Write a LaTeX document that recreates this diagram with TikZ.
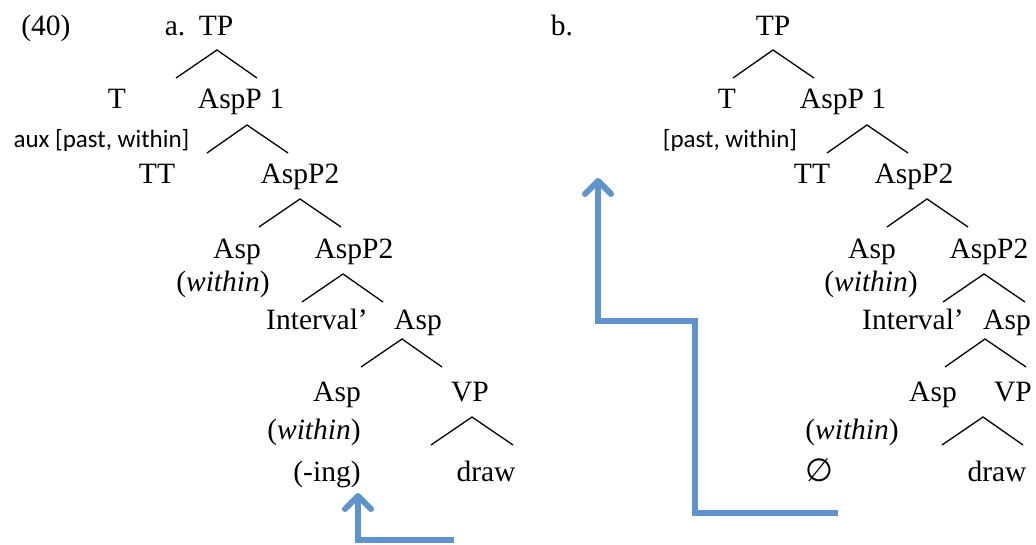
\documentclass[tikz,border=0pt]{standalone}
\usepackage{fontspec}
\setmainfont{Liberation Serif}
\newfontfamily\smallsans{Carlito}
\newfontfamily\symfont{DejaVu Sans}
\usetikzlibrary{arrows.meta}
\definecolor{arrowblue}{RGB}{96,146,203}
\tikzset{
  lbl/.style={anchor=base, inner sep=0pt, font=\fontsize{29.5}{34}\selectfont},
  sub/.style={anchor=base, inner sep=0pt, font=\smallsans\fontsize{25}{30}\selectfont},
  branch/.style={draw=black, line width=1.3pt},
  movearrow/.style={draw=arrowblue, line width=6pt, line join=miter,
    -{Straight Barb[length=13pt,width=26pt,round]}}
}
\begin{document}
\begin{tikzpicture}[x=1pt,y=-1pt]
\useasboundingbox (0,0) rectangle (1036,545);
% ---------- left tree (a) ----------
\node[lbl] (n40) at (46,36) {(40)};
\node[lbl] (la) at (175,36) {a.};
\node[lbl] (aTP) at (216,36) {TP};
\node[lbl] (aT) at (117,109) {T};
\node[lbl] (aAsp1) at (241,109) {AspP 1};
\node[sub] (aaux) at (101.5,148) {aux [past, within]};
\node[lbl] (aTT) at (157,184) {TT};
\node[lbl] (aAsp2) at (300,184) {AspP2};
\node[lbl] (aAsp3) at (237,259) {Asp};
\node[lbl] (aAsp4) at (354,259) {AspP2};
\node[lbl] (aW1) at (223,292) {(\textit{within})};
\node[lbl] (aInt) at (317,330) {Interval’};
\node[lbl] (aAsp5) at (418,330) {Asp};
\node[lbl] (aAsp6) at (337,401) {Asp};
\node[lbl] (aVP) at (470,401) {VP};
\node[lbl] (aW2) at (314,439) {(\textit{within})};
\node[lbl] (aing) at (327,481) {(-ing)};
\node[lbl] (adraw) at (486,481) {draw};
% branches
\coordinate (a1t) at (217,50); \coordinate (a1l) at (176,78); \coordinate (a1r) at (257,78);
\coordinate (a2t) at (247,125); \coordinate (a2l) at (207,153); \coordinate (a2r) at (288,153);
\coordinate (a3t) at (300,199); \coordinate (a3l) at (259,227); \coordinate (a3r) at (341,227);
\coordinate (a4t) at (343,274); \coordinate (a4l) at (302,302); \coordinate (a4r) at (383,302);
\coordinate (a5t) at (402,339); \coordinate (a5l) at (361,367); \coordinate (a5r) at (442,367);
\coordinate (a6t) at (472,417); \coordinate (a6l) at (431,445); \coordinate (a6r) at (513,445);
\foreach \i in {1,...,6} {\draw[branch] (a\i l) -- (a\i t) -- (a\i r);}
% ---------- right tree (b) ----------
\node[lbl] (lb) at (562,36) {b.};
\node[lbl] (bTP) at (773,36) {TP};
\node[lbl] (bT) at (727,109) {T};
\node[lbl] (bAsp1) at (843,109) {AspP 1};
\node[sub] (bpw) at (730,148) {[past, within]};
\node[lbl] (bTT) at (812,184) {TT};
\node[lbl] (bAsp2) at (914,184) {AspP2};
\node[lbl] (bAsp3) at (872,259) {Asp};
\node[lbl] (bAsp4) at (989,259) {AspP2};
\node[lbl] (bW1) at (871,292) {(\textit{within})};
\node[lbl] (bInt) at (913,330) {Interval’};
\node[lbl] (bAsp5) at (1007,330) {Asp};
\node[lbl] (bAsp6) at (933,401) {Asp};
\node[lbl] (bVP) at (1013,401) {VP};
\node[lbl] (bW2) at (852,439) {(\textit{within})};
\node[lbl, font=\symfont\fontsize{32}{36}\selectfont] (bnull) at (819,481) {∅};
\node[lbl] (bdraw) at (997,481) {draw};
\coordinate (b1t) at (773,50); \coordinate (b1l) at (733,78); \coordinate (b1r) at (814,78);
\coordinate (b2t) at (867,125); \coordinate (b2l) at (827,153); \coordinate (b2r) at (908,153);
\coordinate (b3t) at (927,199); \coordinate (b3l) at (887,227); \coordinate (b3r) at (968,227);
\coordinate (b4t) at (984,274); \coordinate (b4l) at (943,302); \coordinate (b4r) at (1025,302);
\coordinate (b5t) at (985,339); \coordinate (b5l) at (945,367); \coordinate (b5r) at (1026,367);
\coordinate (b6t) at (983,417); \coordinate (b6l) at (942,445); \coordinate (b6r) at (1023,445);
\foreach \i in {1,...,6} {\draw[branch] (b\i l) -- (b\i t) -- (b\i r);}
% ---------- movement arrows ----------
\coordinate (m1s) at (454,540); \coordinate (m1c) at (358,540); \coordinate (m1e) at (358,493);
\draw[movearrow] (m1s) -- (m1c) -- (m1e);
\coordinate (m2s) at (838,513); \coordinate (m2c1) at (695,513); \coordinate (m2c2) at (695,321);
\coordinate (m2c3) at (598,321); \coordinate (m2e) at (598,178);
\draw[movearrow] (m2s) -- (m2c1) -- (m2c2) -- (m2c3) -- (m2e);
\end{tikzpicture}
\end{document}
